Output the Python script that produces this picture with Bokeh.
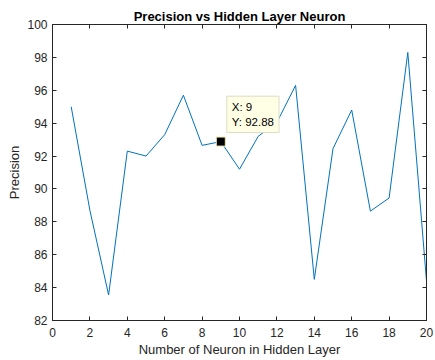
from bokeh.plotting import figure
from bokeh.models import Range1d, LinearAxis, FixedTicker, Label, ColumnDataSource
from bokeh.embed import file_html
from bokeh.resources import INLINE

# data
neurons = list(range(1, 21))
precision = [95.0, 88.7, 83.55, 92.3, 92.0, 93.3, 95.7, 92.65, 92.88, 91.2,
             93.2, 94.05, 96.3, 84.5, 92.45, 94.8, 88.65, 89.45, 98.3, 84.4]
x_ticks = list(range(0, 21, 2))
y_ticks = list(range(82, 101, 2))
tip_x = 9
tip_y = 92.88

FONT = "Liberation Sans"
AX = "#262626"

p = figure(width=435, height=360, output_backend="svg", toolbar_location=None,
           x_range=Range1d(0, 20), y_range=Range1d(82, 100),
           min_border_left=52, min_border_right=9, min_border_top=24, min_border_bottom=40,
           x_axis_label="Number of Neuron in Hidden Layer", y_axis_label="Precision")
p.title.text = "Precision vs Hidden Layer Neuron"
p.title.text_font = FONT
p.title.text_font_size = "13px"
p.title.text_font_style = "bold"
p.title.text_color = "black"
p.title.align = "center"
p.title.standoff = 2

p.xgrid.visible = False
p.ygrid.visible = False
p.outline_line_color = AX
p.outline_line_width = 1
p.background_fill_color = "white"
p.border_fill_color = "white"

src = ColumnDataSource(dict(x=neurons, y=precision))
p.line("x", "y", source=src, line_color="#0072BD", line_width=1)

for ax in (p.xaxis[0], p.yaxis[0]):
    ax.axis_label_text_font = FONT
    ax.axis_label_text_font_size = "13px"
    ax.axis_label_text_font_style = "normal"
    ax.axis_label_text_color = AX
    ax.major_label_text_font = FONT
    ax.major_label_text_font_size = "12px"
    ax.major_label_text_color = AX
    ax.axis_line_color = AX
    ax.major_tick_line_color = AX
    ax.major_tick_in = 4
    ax.major_tick_out = 0
    ax.minor_tick_line_color = None

p.xaxis[0].ticker = FixedTicker(ticks=x_ticks)
p.yaxis[0].ticker = FixedTicker(ticks=y_ticks)
p.xaxis[0].major_label_standoff = 7
p.xaxis[0].axis_label_standoff = 2
p.yaxis[0].major_label_standoff = 5
p.yaxis[0].axis_label_standoff = 2

# box ticks on top and right
top = LinearAxis(ticker=FixedTicker(ticks=x_ticks))
right = LinearAxis(ticker=FixedTicker(ticks=y_ticks))
for ax, ticks in ((top, x_ticks), (right, y_ticks)):
    ax.major_label_overrides = {t: "" for t in ticks}
    ax.major_label_text_font_size = "0px"
    ax.major_label_standoff = 0
    ax.axis_line_color = AX
    ax.major_tick_line_color = AX
    ax.major_tick_in = 4
    ax.major_tick_out = 0
    ax.minor_tick_line_color = None
p.add_layout(top, "above")
p.add_layout(right, "right")

# data tip
p.scatter([tip_x], [tip_y], marker="square", size=9, fill_color="black",
          line_color="#EFE8B0", line_width=1)
tip = Label(x=tip_x, y=tip_y, x_offset=6, y_offset=9,
            text=f"X: {tip_x}\nY: {tip_y:.2f}",
            text_font=FONT, text_font_size="11.5px", text_color="black",
            text_align="left", text_baseline="bottom", text_line_height=1.2,
            background_fill_color="#FFFFE6", border_line_color="#DCDCC4",
            border_line_width=1, padding=5)
p.add_layout(tip)

open("out.html", "w").write(file_html(p, INLINE))
